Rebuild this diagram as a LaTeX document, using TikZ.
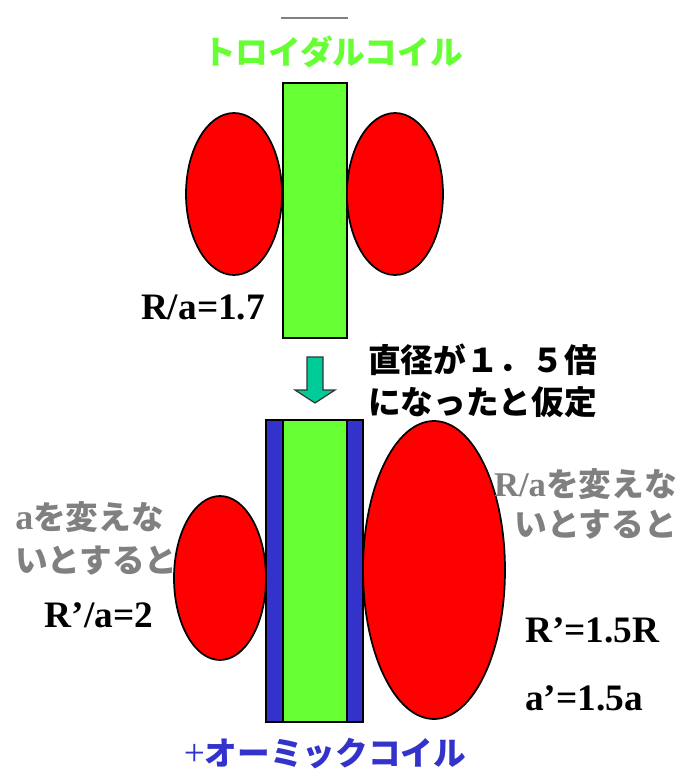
\documentclass[tikz,border=0pt]{standalone}
\usepackage{fontspec}
\setmainfont{Liberation Serif}
\newfontfamily\jp{Noto Sans CJK JP}
\definecolor{coilgreen}{HTML}{66FF33}
\definecolor{coilblue}{HTML}{3333CC}
\definecolor{arrowgreen}{HTML}{00CC99}
\definecolor{torusred}{HTML}{FF0000}
\definecolor{notegray}{HTML}{808080}
\begin{document}
\begin{tikzpicture}[x=0.75pt,y=-0.75pt,
  torus/.style={draw=black, fill=torusred, line width=1.3pt},
  coilbox/.style={draw=black, fill=coilgreen, line width=1.3pt},
  ohmbox/.style={draw=black, fill=coilblue, line width=1.3pt},
  jptext/.style={font=\jp\bfseries\fontsize{24.5}{28}\selectfont, inner sep=0pt},
  graytext/.style={jptext, text=notegray},
  latin/.style={font=\rmfamily\bfseries\fontsize{28}{32}\selectfont, inner sep=0pt},
  blockarrow/.style={draw=black!80, fill=arrowgreen, line width=0.9pt}]
\useasboundingbox (0,0) rectangle (695,772);

% top line
\coordinate (la) at (281,18);
\coordinate (lb) at (348,18);
\draw[notegray, line width=0.9pt] (la) -- (lb);

% title
\node[jptext, text=coilgreen] (title) at (333,52) {トロイダルコイル};

% top tokamak
\draw[torus] (234,194) ellipse [x radius=48, y radius=81];
\draw[torus] (395,194) ellipse [x radius=48, y radius=81];
\draw[coilbox] (283,83) rectangle (347,338);
\node[latin, anchor=base] (ra1) at (203,319) {R/a=1.7};

% arrow
\draw[blockarrow] (307,357) -- (323,357) -- (323,390) -- (335,390) -- (315,403)
  -- (295,390) -- (307,390) -- cycle;
\node[jptext, anchor=west] (note1) at (368,360) {直径が１．５倍};
\node[jptext, anchor=west] (note2) at (368,402) {になったと仮定};

% bottom tokamak
\draw[torus] (220,578) ellipse [x radius=46, y radius=82];
\draw[torus] (434,570) ellipse [x radius=71, y radius=149];
\draw[ohmbox] (266,420) rectangle (283,722);
\draw[ohmbox] (347,420) rectangle (363,722);
\draw[coilbox] (283,420) rectangle (347,722);

% labels
\node[graytext, anchor=west] (g1) at (15,517) {{\rmfamily\fontsize{27}{30}\selectfont a}を変えな};
\node[graytext, anchor=west] (g2) at (15,561) {いとすると};
\node[latin, anchor=base] (ra2) at (99,627) {R’/a=2};

\node[graytext, anchor=east] (g3) at (677,484) {{\rmfamily\fontsize{26}{30}\selectfont R/a}を変えな};
\node[graytext, anchor=east] (g4) at (677,525) {いとすると};
\node[latin, anchor=base west] (rr) at (525,642) {R’=1.5R};
\node[latin, anchor=base west] (aa) at (525,710) {a’=1.5a};

\node[jptext, text=coilblue, anchor=base] (bottom) at (325,765) {{\rmfamily\mdseries\fontsize{28}{30}\selectfont +}オーミックコイル};
\end{tikzpicture}
\end{document}
